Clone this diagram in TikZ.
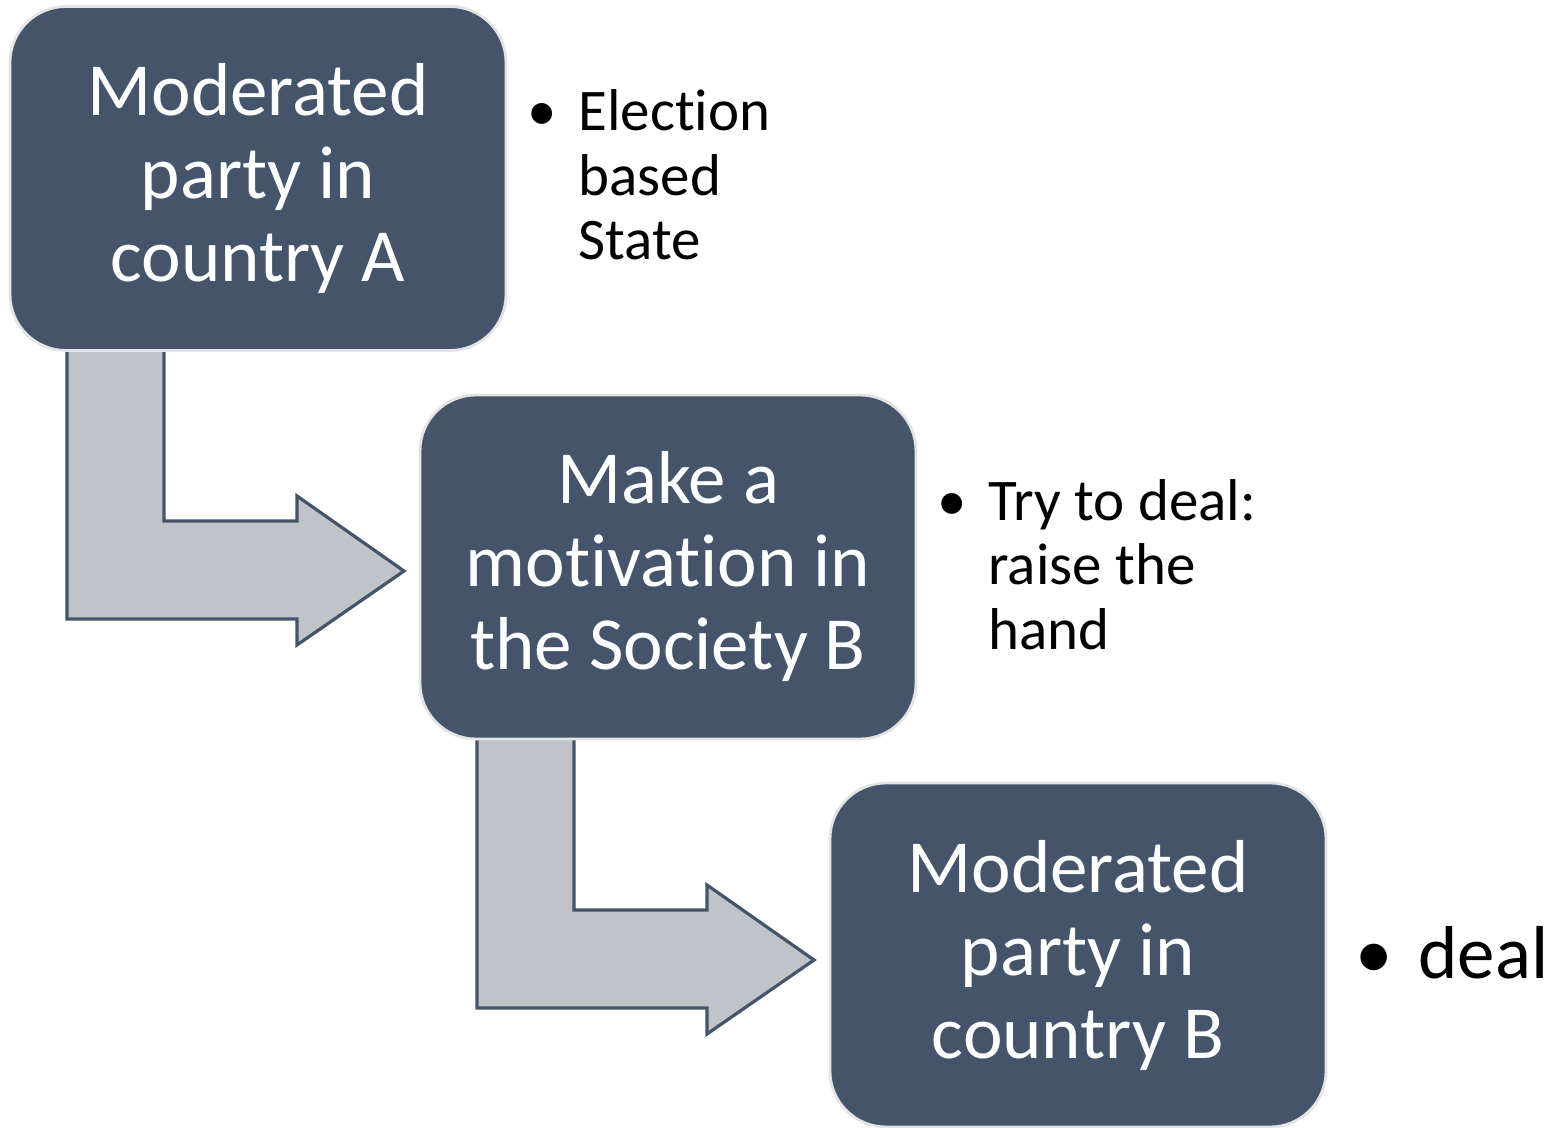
\documentclass[tikz,border=0pt]{standalone}
\usepackage{fontspec}
\setmainfont{Carlito}[Ligatures=NoCommon]
\definecolor{boxblue}{HTML}{44546A}
\definecolor{boxedge}{HTML}{E4E4E4}
\definecolor{arrowfill}{HTML}{C0C3C8}
\begin{document}
\begin{tikzpicture}[x=0.5pt,y=-0.5pt,
  stepbox/.style={rounded corners=28pt, fill=boxblue, draw=boxedge, line width=1.4pt,
    minimum width=248pt, minimum height=172pt, align=center, text=white,
    font=\fontsize{37.5}{41.5}\selectfont, inner sep=0pt},
  bentarrow/.style={fill=arrowfill, draw=boxblue, line width=1.6pt, line join=miter},
  note/.style={font=\fontsize{29.5}{32.25}\selectfont, inner sep=0pt},
  bignote/.style={font=\fontsize{37.5}{45}\selectfont, inner sep=0pt}]
\useasboundingbox (0,0) rectangle (1552,1128);
% bent arrows (drawn first, under the boxes)
\draw[bentarrow] (67,346) -- (164,346) -- (164,521) -- (297,521) -- (297,496) -- (404,571)
  -- (297,645) -- (297,619) -- (67,619) -- cycle;
\draw[bentarrow] (477,735) -- (574,735) -- (574,910) -- (707,910) -- (707,885) -- (814,960)
  -- (707,1034) -- (707,1008) -- (477,1008) -- cycle;
% boxes
\node[stepbox] (a) at (258,178.5) {Moderated\\party in\\country A};
\node[stepbox] (b) at (668,567) {Make a\\motivation in\\the Society B};
\node[stepbox] (c) at (1078,955) {Moderated\\party in\\country B};
% notes
\node[note, anchor=base] (dot1) at (542,131) {•};
\node[note, anchor=base west] (n1) at (578,131) {\begin{tabular}[t]{@{}l@{}}Election\\based\\State\end{tabular}};
\node[note, anchor=base] (dot2) at (952,520) {•};
\node[note, anchor=base west] (n2) at (988,520) {\begin{tabular}[t]{@{}l@{}}Try to deal:\\raise the\\hand\end{tabular}};
\node[bignote, anchor=base] (dot3) at (1374,978) {•};
\node[bignote, anchor=base west] (n3) at (1418,978) {deal};
\end{tikzpicture}
\end{document}
